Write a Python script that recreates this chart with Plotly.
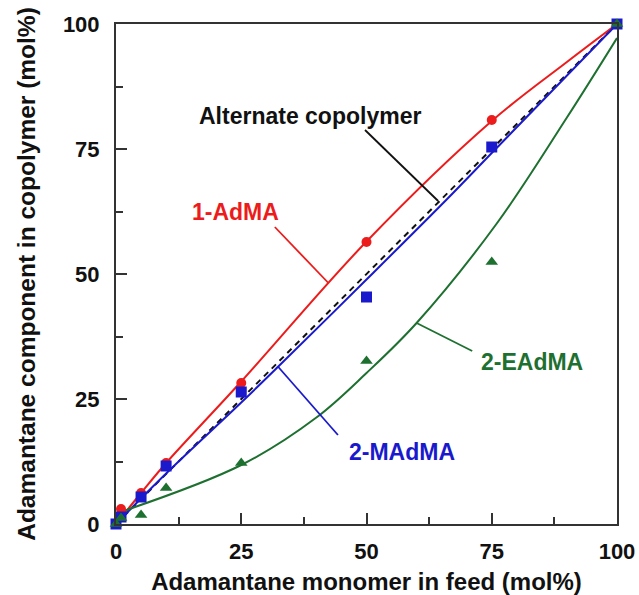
import plotly.graph_objects as go

# Feed composition (mol% adamantane monomer) for the measured points
feed = [0, 1, 5, 10, 25, 50, 75, 100]

# Measured copolymer composition (mol% adamantane component)
adma1_pts = [0, 3.0, 6.2, 12.2, 28.2, 56.4, 80.8, 100]
madma2_pts = [0, 1.4, 5.4, 11.6, 26.4, 45.4, 75.4, 100]
eadma2_pts = [0, 1.2, 1.8, 7.2, 12.2, 32.6, 52.4, 100]

# Fitted composition curves
adma1_fit_x = [0, 5, 10, 25, 50, 75, 90, 100]
adma1_fit_y = [0, 6.2, 12.2, 28.5, 56.5, 80.6, 92.4, 100]
madma2_fit_x = [0, 10, 25, 32.4, 50, 66, 75, 100]
madma2_fit_y = [0, 10.1, 24.3, 31.5, 48.9, 64.9, 74.2, 100]
eadma2_fit_x = [1.5, 25, 40, 50, 60, 76, 90, 100]
eadma2_fit_y = [2.6, 11.8, 21.3, 30.2, 40.2, 60.1, 81.3, 97.2]

# Ideal (azeotropic) reference line
ideal_x = [0, 100]
ideal_y = [0, 100]

RED = "#ec1c1c"
BLUE = "#1a1acc"
GREEN = "#1e7030"
INK = "#111111"
FONT = "Liberation Sans, Arial, sans-serif"

fig = go.Figure()

fig.add_trace(go.Scatter(x=ideal_x, y=ideal_y, mode="lines",
                         line=dict(color="#111111", width=2, dash="6px,5px")))
fig.add_trace(go.Scatter(x=adma1_fit_x, y=adma1_fit_y, mode="lines",
                         line=dict(color=RED, width=2, shape="spline", smoothing=1.0)))
fig.add_trace(go.Scatter(x=madma2_fit_x, y=madma2_fit_y, mode="lines",
                         line=dict(color=BLUE, width=2, shape="spline", smoothing=1.0)))
fig.add_trace(go.Scatter(x=eadma2_fit_x, y=eadma2_fit_y, mode="lines",
                         line=dict(color=GREEN, width=2, shape="spline", smoothing=1.0)))

fig.add_trace(go.Scatter(x=feed, y=adma1_pts, mode="markers", cliponaxis=False,
                         marker=dict(symbol="circle", size=10, color=RED)))
fig.add_trace(go.Scatter(x=feed, y=madma2_pts, mode="markers", cliponaxis=False,
                         marker=dict(symbol="square", size=11, color=BLUE)))
fig.add_trace(go.Scatter(x=feed, y=eadma2_pts, mode="markers", cliponaxis=False,
                         marker=dict(symbol="triangle-up", size=11, color=GREEN)))

# Labels with leader lines
labels = [
    ("Alternate copolymer", 38.7, 81.6, INK, (49.7, 78.8, 64.3, 64.6)),
    ("1-AdMA", 23.8, 62.4, RED, (31.7, 59.4, 42.4, 48.2)),
    ("2-MAdMA", 57.1, 14.4, BLUE, (32.4, 31.4, 44.3, 17.8)),
    ("2-EAdMA", 83.0, 32.4, GREEN, (60.0, 40.2, 71.1, 34.6)),
]
for text, tx, ty, col, (x0, y0, x1, y1) in labels:
    fig.add_annotation(x=tx, y=ty, text=text, showarrow=False,
                       font=dict(family=FONT, size=23, color=col, weight="bold"))
    fig.add_shape(type="line", x0=x0, y0=y0, x1=x1, y1=y1,
                  line=dict(color=col, width=1.8))

axis_common = dict(
    range=[0, 100], tickvals=[0, 25, 50, 75, 100], automargin=False,
    ticks="inside", ticklen=11, tickwidth=1.5, tickcolor="#333333",
    minor=dict(tickvals=[12.5, 37.5, 62.5, 87.5], ticks="inside",
               ticklen=7, tickwidth=1.5, tickcolor="#333333"),
    showline=True, linecolor="#333333", linewidth=2, mirror=True,
    showgrid=False, zeroline=False,
    tickfont=dict(family=FONT, size=22, color=INK, weight="bold"),
)

fig.update_xaxes(**axis_common, ticklabelstandoff=7,
                 title=dict(text="Adamantane monomer in feed (mol%)", standoff=10,
                            font=dict(family=FONT, size=24, color=INK, weight="bold")))
fig.update_yaxes(**axis_common, ticklabelstandoff=10,
                 title=dict(text="Adamantane component in copolymer (mol%)", standoff=20,
                            font=dict(family=FONT, size=24.5, color=INK, weight="bold")))

fig.update_layout(
    width=639, height=595,
    margin=dict(l=116, r=22, t=24, b=71),
    paper_bgcolor="white", plot_bgcolor="white",
    showlegend=False,
)

fig.write_html("out.html")
